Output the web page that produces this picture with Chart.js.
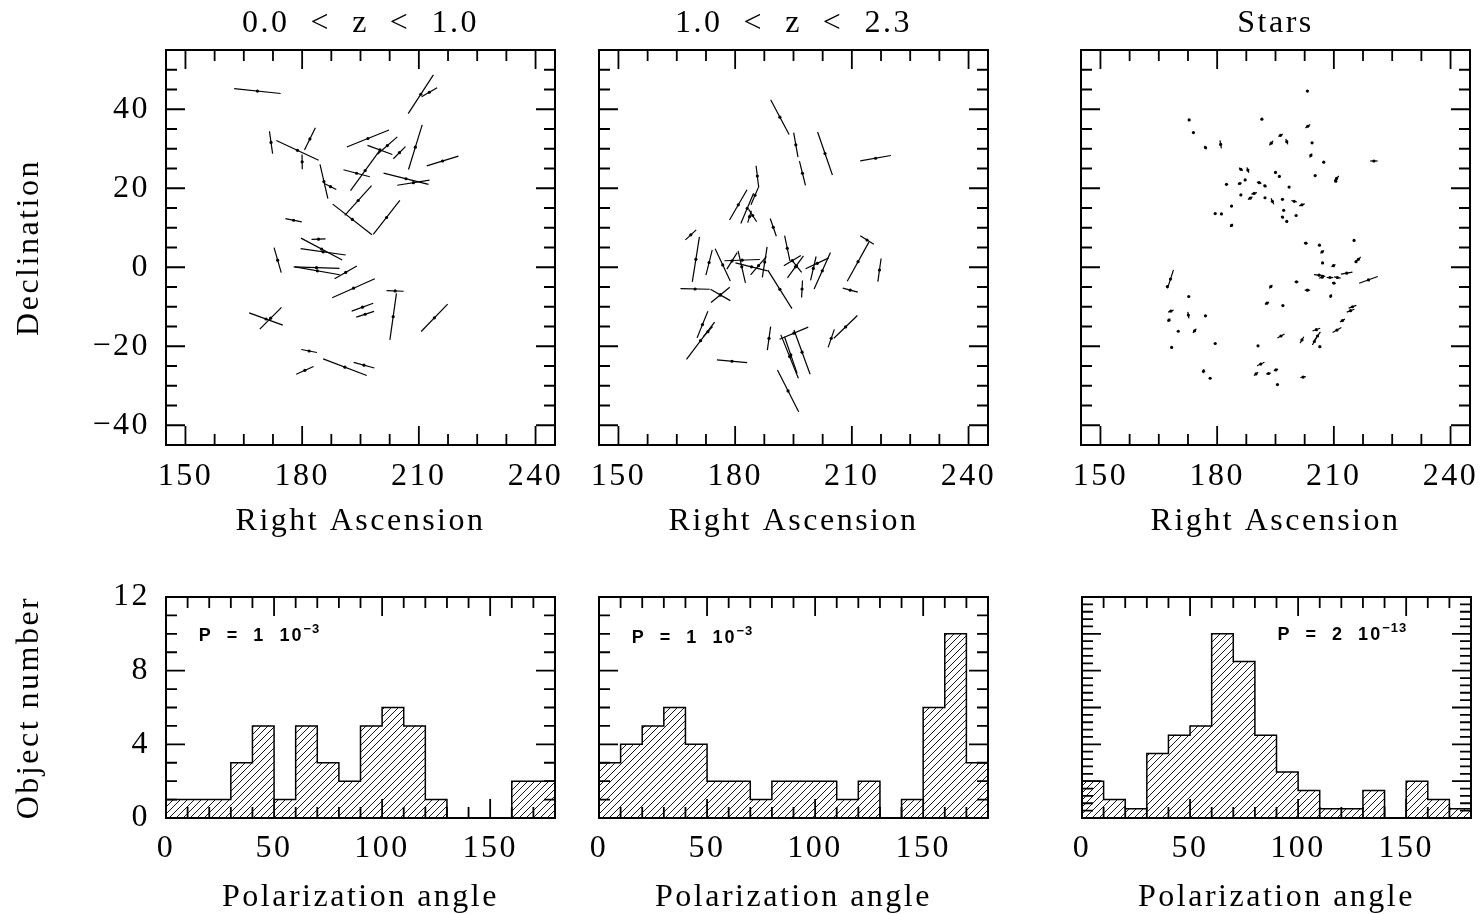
<!DOCTYPE html>
<html>
<head>
<meta charset="utf-8">
<title>Polarization vectors and angle histograms</title>
<script src="https://cdn.jsdelivr.net/npm/chart.js"></script>
<style>
  html, body { margin: 0; padding: 0; background: #fff; width: 1483px; height: 914px; overflow: hidden; }
  canvas { position: absolute; }
</style>
</head>
<body>
<canvas id="map-low"></canvas>
<canvas id="map-high"></canvas>
<canvas id="map-stars"></canvas>
<canvas id="hist-low"></canvas>
<canvas id="hist-high"></canvas>
<canvas id="hist-stars"></canvas>
<script>
// ---- tick labels and titles ----
const raTicks = [150, 180, 210, 240];
const decTicks = [-40, -20, 0, 20, 40];
const angleTicks = [0, 50, 100, 150];
const countTicks = [0, 4, 8, 12];
const panelTitles = ['0.0  <  z  <  1.0', '1.0  <  z  <  2.3', 'Stars'];
const probTexts = ['P  =  1  10', 'P  =  1  10', 'P  =  2  10'];
const probExps = ['\u22123', '\u22123', '\u221213'];

// ---- histogram bins (polarization angle, deg) ----
const binCentres = [5, 15, 25, 35, 45, 55, 65, 75, 85, 95, 105, 115, 125, 135, 145, 155, 165, 175];
const binEdges = [0, 10, 20, 30, 40, 50, 60, 70, 80, 90, 100, 110, 120, 130, 140, 150, 160, 170, 180];
const countsLowZ = [1, 1, 1, 3, 5, 1, 5, 3, 2, 5, 6, 5, 1, 0, 0, 0, 2, 2];
const countsHighZ = [3, 4, 5, 6, 4, 2, 2, 1, 2, 2, 2, 1, 2, 0, 1, 6, 10, 3];
const countsStars = [4, 2, 1, 7, 9, 10, 20, 17, 9, 5, 3, 1, 1, 3, 0, 4, 2, 1];

// ---- polarization vectors: position, length (axis units), orientation (deg from horizontal) ----
const lowZRa = [168.5, 210.5, 212.7, 172.0, 178.8, 182.0, 180.0, 185.6, 187.3, 196.9, 196.2, 200.0, 201.9, 205.0,
  209.1, 194.0, 206.7, 208.6, 216.1, 194.4, 192.9, 201.7, 177.8, 184.2, 185.0, 185.4, 173.7, 183.7, 183.9, 191.2,
  193.2, 203.9, 203.4, 195.5, 196.2, 214.0, 170.7, 171.9, 181.8, 191.0, 195.9, 180.7];
const lowZDec = [44.6, 43.8, 44.3, 31.6, 29.6, 32.5, 26.7, 21.7, 20.4, 32.6, 24.5, 29.7, 30.8, 29.0,
  30.4, 23.8, 22.4, 21.4, 26.9, 16.9, 12.1, 12.6, 11.9, 7.1, 4.6, 3.9, 1.8, -0.1, -0.9, -1.3,
  -5.3, -6.0, -12.5, -10.1, -11.9, -12.8, -13.1, -12.9, -21.2, -25.3, -24.8, -26.1];
const lowZLen = [12.0, 11.9, 4.6, 5.8, 12.0, 6.4, 3.8, 9.0, 3.3, 11.7, 12.8, 6.8, 6.8, 4.4,
  12.0, 7.0, 11.9, 8.4, 8.5, 10.3, 12.8, 11.1, 4.3, 3.6, 12.0, 11.7, 6.7, 11.8, 11.7, 6.6,
  12.0, 4.4, 12.1, 5.9, 4.8, 9.8, 9.2, 7.9, 4.1, 12.0, 5.5, 4.9];
const lowZAng = [174, 57, 30, 98, 155, 64, 91, 103, 153, 22, 54, 160, 41, 45,
  73, 165, 166, 9, 17, 48, 142, 52, 169, 2, 152, 172, 106, 178, 170, 30,
  24, 178, 82, 20, 18, 46, 160, 45, 169, 159, 165, 24];

const highZRa = [191.5, 195.6, 197.3, 203.1, 216.1, 185.7, 185.1, 180.8, 183.1, 184.5, 183.7, 189.8, 168.6, 169.9,
  173.3, 176.8, 179.2, 181.8, 181.7, 184.2, 186.0, 187.6, 191.5, 193.4, 194.7, 195.5, 195.8, 197.2, 201.1, 200.1,
  202.4, 213.9, 211.6, 217.1, 169.7, 176.2, 176.2, 209.6, 171.6, 171.1, 173.0, 188.7, 195.1, 194.0, 194.3, 197.2,
  208.4, 204.7, 179.2, 193.6];
const highZDec = [38.0, 31.0, 23.8, 28.8, 27.6, 23.1, 18.2, 15.8, 14.9, 13.1, 12.8, 10.1, 8.2, 2.0,
  1.2, 0.6, 1.6, 1.8, 0.1, 0.1, 0.4, 1.3, -5.6, 4.8, 1.7, 0.1, 0.3, -5.5, 1.0, -0.3,
  -0.9, 6.9, 1.4, -0.7, -5.5, -7.0, -7.0, -5.8, -14.5, -18.6, -16.3, -18.0, -16.7, -22.6, -22.2, -21.5,
  -15.1, -18.0, -23.8, -31.3];
const highZLen = [10.1, 6.4, 6.4, 11.7, 8.0, 5.3, 5.3, 9.0, 8.4, 3.8, 3.2, 4.8, 3.8, 11.7,
  6.7, 9.2, 5.0, 9.1, 8.4, 8.5, 6.2, 7.9, 11.7, 6.6, 5.1, 7.0, 4.1, 4.4, 6.6, 6.3,
  10.3, 4.1, 11.5, 6.0, 7.5, 5.9, 6.2, 4.0, 7.4, 12.0, 3.5, 6.1, 8.0, 12.0, 9.9, 12.1,
  8.4, 4.9, 7.8, 12.0];
const highZAng = [118, 100, 104, 109, 10, 97, 67, 60, 67, 123, 73, 109, 43, 81,
  76, 115, 58, 2, 103, 166, 49, 81, 122, 102, 31, 54, 129, 87, 25, 77,
  66, 148, 61, 82, 179, 150, 39, 165, 68, 53, 47, 82, 23, 112, 109, 110,
  44, 71, 175, 117];

const starRa = [203.2, 172.8, 191.5, 173.9, 203.3, 177.0, 180.9, 193.9, 196.3, 197.9, 204.4, 204.1, 207.4, 220.3,
  186.1, 187.9, 195.0, 196.0, 205.2, 210.7, 210.5, 182.4, 185.8, 187.2, 190.8, 192.3, 198.5, 186.1, 189.5, 188.5,
  192.3, 194.2, 196.8, 199.8, 201.8, 183.7, 197.1, 179.5, 181.1, 196.8, 197.9, 200.3, 183.7, 202.8, 206.3, 207.0,
  215.2, 207.1, 209.9, 216.3, 215.7, 206.2, 207.0, 209.0, 210.9, 213.3, 210.0, 218.9, 168.0, 167.2, 200.4, 193.8,
  203.2, 209.2, 172.7, 192.8, 196.9, 168.1, 167.6, 172.6, 177.0, 170.0, 174.2, 214.8, 214.3, 212.2, 210.8, 196.4,
  201.8, 205.5, 205.8, 205.0, 206.4, 168.3, 179.5, 190.5, 191.2, 176.5, 178.2, 190.0, 193.2, 195.1, 195.5, 202.1];
const starDec = [44.6, 37.3, 37.5, 34.1, 35.7, 30.3, 31.1, 31.4, 33.4, 31.8, 31.5, 28.3, 26.6, 26.9,
  24.8, 24.6, 24.0, 23.0, 23.2, 22.5, 21.8, 21.0, 21.2, 22.1, 21.4, 20.6, 20.3, 18.3, 18.7, 17.5,
  17.6, 16.7, 17.2, 16.7, 15.8, 15.5, 14.4, 13.6, 13.5, 12.7, 11.6, 13.1, 10.6, 6.1, 5.6, 3.9,
  6.8, 1.1, 0.4, 2.0, 1.4, -2.0, -2.5, -2.6, -2.6, -1.5, -4.0, -3.2, -3.0, -4.9, -3.7, -4.9,
  -5.8, -7.3, -7.4, -9.1, -9.7, -11.1, -13.4, -12.1, -12.3, -16.2, -16.1, -10.0, -11.0, -13.5, -15.9, -17.4,
  -18.4, -15.8, -17.4, -18.8, -20.1, -20.3, -19.3, -19.9, -24.5, -26.3, -28.1, -27.0, -26.9, -26.0, -29.7, -27.8];
const starLen = [0, 0, 0, 0, 1.5, 1.0, 2.1, 1.5, 1.3, 1.5, 0, 1.2, 0, 1.9,
  1.2, 1.5, 0, 0, 0, 1.7, 0, 0, 1.0, 0, 1.2, 0.9, 0, 0, 1.5, 1.4,
  0, 1.7, 0, 1.5, 1.5, 0, 0, 0, 0, 0.9, 0, 0, 1.0, 1.0, 0, 1.2,
  0, 0, 1.2, 1.7, 0, 2.6, 1.7, 1.7, 1.7, 3.0, 1.0, 5.1, 5.0, 0, 1.0, 1.2,
  1.4, 1.0, 0, 1.2, 0, 1.5, 1.0, 1.7, 0, 0, 1.4, 2.1, 2.1, 1.5, 2.6, 2.1,
  1.9, 2.1, 2.6, 2.1, 0, 0, 0, 0, 2.1, 1.0, 0, 1.4, 1.2, 1.2, 0, 1.4];
const starAng = [0, 0, 0, 0, 35, 120, 100, 50, 30, 110, 0, 60, 0, 0,
  140, 110, 0, 0, 0, 45, 0, 0, 20, 0, 165, 150, 0, 0, 15, 30,
  0, 115, 0, 165, 20, 0, 0, 0, 0, 150, 0, 0, 45, 170, 0, 40,
  0, 0, 30, 45, 0, 175, 20, 0, 170, 10, 165, 20, 72, 0, 0, 50,
  0, 70, 0, 30, 0, 20, 50, 100, 0, 0, 50, 20, 20, 30, 30, 30,
  60, 20, 55, 60, 0, 0, 0, 0, 25, 80, 0, 40, 10, 20, 0, 10];

// ---- styling ----
const FONT = "'Liberation Serif', 'DejaVu Serif', serif";
const NOTE_FONT = "'Liberation Sans', 'DejaVu Sans', sans-serif";
const ink = '#000';
const font = size => ({ family: FONT, size: size, lineHeight: 1 });
const minus = v => String(v).replace('-', '\u2212');

function multiples(min, max, step) {
  const out = [];
  for (let k = Math.ceil(min / step - 1e-6); k * step <= max + 1e-6; k++) out.push(k * step);
  return out;
}
const onStep = (v, step) => Math.abs(v / step - Math.round(v / step)) < 1e-6;

function hatchPattern() {
  const s = 7;
  const c = document.createElement('canvas');
  c.width = s; c.height = s;
  const g = c.getContext('2d');
  g.strokeStyle = ink;
  g.lineWidth = 0.9;
  g.beginPath();
  g.moveTo(0, s); g.lineTo(s, 0);
  g.moveTo(-1, 1); g.lineTo(1, -1);
  g.moveTo(s - 1, s + 1); g.lineTo(s + 1, s - 1);
  g.stroke();
  return g.createPattern(c, 'repeat');
}

// box with inward ticks on all four sides, plus the optional P note
const framePlugin = {
  id: 'frame',
  beforeLayout(chart) { chart.ctx.letterSpacing = '2.5px'; },
  beforeDraw(chart) { chart.ctx.letterSpacing = '2.5px'; },
  afterDatasetsDraw(chart, args, o) {
    const { ctx, chartArea: a } = chart;
    const xs = chart.scales.x, ys = chart.scales.y;
    ctx.save();
    ctx.strokeStyle = ink;
    ctx.lineWidth = 1.8;
    ctx.beginPath();
    multiples(xs.min, xs.max, o.xMinor).forEach(v => {
      const len = onStep(v, o.xMajor) ? 19 : 11;
      const px = xs.getPixelForValue(v);
      ctx.moveTo(px, a.top); ctx.lineTo(px, a.top + len);
      ctx.moveTo(px, a.bottom); ctx.lineTo(px, a.bottom - len);
    });
    multiples(ys.min, ys.max, o.yMinor).forEach(v => {
      const len = onStep(v, o.yMajor) ? 19 : 11;
      const py = ys.getPixelForValue(v);
      ctx.moveTo(a.left, py); ctx.lineTo(a.left + len, py);
      ctx.moveTo(a.right, py); ctx.lineTo(a.right - len, py);
    });
    ctx.stroke();
    ctx.lineWidth = 2;
    ctx.strokeRect(a.left, a.top, a.right - a.left, a.bottom - a.top);

    if (o.note) {
      const n = o.note;
      const px = xs.getPixelForValue(n.x), py = ys.getPixelForValue(n.y);
      ctx.fillStyle = ink;
      ctx.textAlign = 'left';
      ctx.textBaseline = 'alphabetic';
      ctx.letterSpacing = '2px';
      ctx.font = 'bold 18px ' + NOTE_FONT;
      ctx.fillText(n.text, px, py);
      const w = ctx.measureText(n.text).width;
      ctx.letterSpacing = '1px';
      ctx.font = 'bold 13px ' + NOTE_FONT;
      ctx.fillText(n.exp, px + w, py - 8);
    }
    ctx.restore();
  }
};

function place(id, left, top, width, height) {
  const el = document.getElementById(id);
  el.width = width; el.height = height;
  el.style.left = left + 'px'; el.style.top = top + 'px';
  el.style.width = width + 'px'; el.style.height = height + 'px';
  return el;
}

function axisX(ticks, min, max, title, height, labelPad, titlePad) {
  return {
    type: 'linear', position: 'bottom', min: min, max: max, offset: false,
    afterBuildTicks: s => { s.ticks = ticks.map(v => ({ value: v })); },
    afterFit: s => { s.height = height; },
    ticks: { color: ink, font: font(32), padding: labelPad, autoSkip: false, maxRotation: 0, callback: minus },
    grid: { display: false, drawTicks: false, offset: false },
    border: { display: false },
    title: { display: true, text: title, color: ink, font: font(32), padding: { top: 0, bottom: titlePad } }
  };
}

function axisY(ticks, min, max, title, width) {
  const show = title !== null;
  return {
    type: 'linear', position: 'left', min: min, max: max,
    afterBuildTicks: s => { s.ticks = ticks.map(v => ({ value: v })); },
    afterFit: s => { s.width = width; },
    ticks: { display: show, color: ink, font: font(32), padding: 16, autoSkip: false, callback: minus },
    grid: { display: false, drawTicks: false },
    border: { display: false },
    title: { display: show, text: title || '', color: ink, font: font(32), padding: { top: 14, bottom: 0 } }
  };
}

function axisTitle(text) {
  return {
    type: 'linear', axis: 'x', position: 'top', min: 0, max: 1,
    afterFit: s => { s.height = 50; },
    ticks: { display: false },
    grid: { display: false, drawTicks: false },
    border: { display: false },
    title: { display: true, text: text, color: ink, font: font(32), padding: { top: 8, bottom: 0 } }
  };
}

const baseOptions = {
  responsive: false,
  animation: false,
  devicePixelRatio: 1,
  events: []
};

function vectorMap(id, boxLeft, yWidth, title, ra, dec, len, ang, showY) {
  const el = place(id, boxLeft - yWidth, 0, yWidth + 389 + 50, 545);
  const pts = ra.map((r, i) => ({ x: r, y: dec[i] }));
  const halfLen = c => {
    const s = c.chart.scales.x;
    if (!s || c.dataIndex === undefined) return 0;
    return len[c.dataIndex] * (s.getPixelForValue(1) - s.getPixelForValue(0)) / 2;
  };
  return new Chart(el, {
    type: 'scatter',
    data: {
      datasets: [
        { data: pts, pointStyle: 'line', pointRadius: halfLen,
          pointRotation: c => -(ang[c.dataIndex] || 0),
          pointBorderColor: ink, pointBorderWidth: 1.2, pointBackgroundColor: 'rgba(0,0,0,0)' },
        { data: pts, pointStyle: 'circle', pointRadius: 1.6,
          pointBackgroundColor: ink, pointBorderWidth: 0 }
      ]
    },
    options: Object.assign({}, baseOptions, {
      layout: { padding: { top: 0, right: 50, bottom: 0, left: 0 } },
      plugins: {
        legend: { display: false },
        tooltip: { enabled: false },
        frame: { xMinor: 7.5, xMajor: 30, yMinor: 5, yMajor: 20 }
      },
      scales: {
        x: axisX(raTicks, 145, 245, 'Right Ascension', 100, 16, 7),
        x2: axisTitle(title),
        y: axisY(decTicks, -45, 55, showY ? 'Declination' : null, yWidth)
      }
    }),
    plugins: [framePlugin]
  });
}

function histogram(id, boxLeft, yWidth, counts, yMax, yMinor, showY, note) {
  const el = place(id, boxLeft - yWidth, 560, yWidth + 389 + 50, 354);
  const bars = binCentres.map((c, i) => ({ x: c, y: counts[i] }));
  const outline = binEdges.map((e, i) => ({ x: e, y: counts[Math.min(i, counts.length - 1)] }));
  return new Chart(el, {
    type: 'bar',
    data: {
      datasets: [
        { type: 'line', data: outline, stepped: 'before', borderColor: ink, borderWidth: 1.5,
          pointRadius: 0, fill: false, order: 0 },
        { type: 'bar', data: bars, backgroundColor: hatchPattern(), borderWidth: 0,
          barPercentage: 1, categoryPercentage: 1, order: 1 }
      ]
    },
    options: Object.assign({}, baseOptions, {
      layout: { padding: { top: 37, right: 50, bottom: 0, left: 0 } },
      plugins: {
        legend: { display: false },
        tooltip: { enabled: false },
        frame: { xMinor: 10, xMajor: 50, yMinor: yMinor, yMajor: 4, note: note }
      },
      scales: {
        x: axisX(angleTicks, 0, 180, 'Polarization angle', 96, 15, 0),
        y: axisY(countTicks, 0, yMax, showY ? 'Object number' : null, yWidth)
      }
    }),
    plugins: [framePlugin]
  });
}

vectorMap('map-low', 166, 166, panelTitles[0], lowZRa, lowZDec, lowZLen, lowZAng, true);
vectorMap('map-high', 599, 40, panelTitles[1], highZRa, highZDec, highZLen, highZAng, false);
vectorMap('map-stars', 1081, 40, panelTitles[2], starRa, starDec, starLen, starAng, false);

histogram('hist-low', 166, 166, countsLowZ, 12, 1, true,
  { x: 15.2, y: 9.6, text: probTexts[0], exp: probExps[0] });
histogram('hist-high', 599, 40, countsHighZ, 12, 1, false,
  { x: 15.2, y: 9.5, text: probTexts[1], exp: probExps[1] });
histogram('hist-stars', 1082, 40, countsStars, 24, 0.8, false,
  { x: 90.5, y: 19.3, text: probTexts[2], exp: probExps[2] });
</script>
</body>
</html>
